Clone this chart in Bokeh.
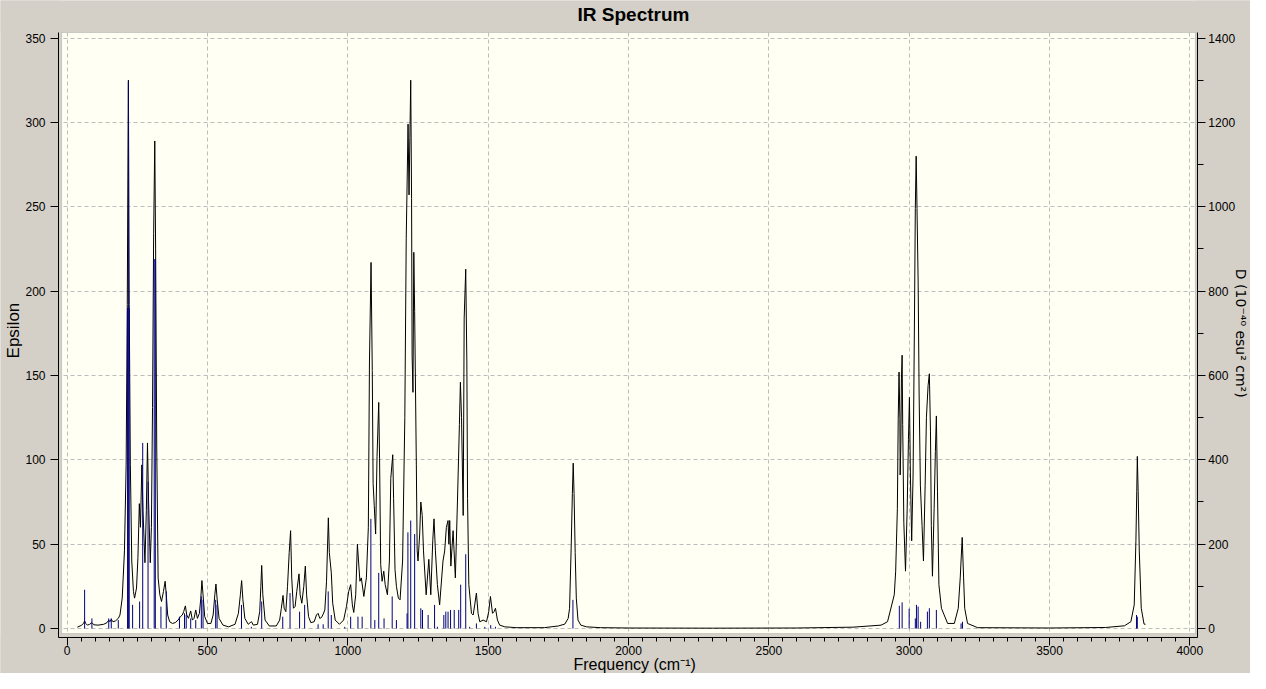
import math
from bokeh.plotting import figure
from bokeh.models import ColumnDataSource, Range1d, LinearAxis, FixedTicker, BoxAnnotation, Label
from bokeh.embed import file_html
from bokeh.resources import INLINE

# ---------------- data ----------------
title_text = "IR Spectrum"
x_label = "Frequency (cm\u207b\u00b9)"
y_label = "Epsilon"
y2_label = "D (10\u207b\u2074\u2070 esu\u00b2 cm\u00b2)"

x_ticks = list(range(0, 4001, 500))
x_minor = list(range(0, 4001, 50))
y_ticks = list(range(0, 351, 50))
y2_ticks = list(range(0, 1401, 200))
y2_minor = list(range(0, 1401, 100))

# broadened spectrum (Epsilon), key points
curve_freq = [
    36, 50, 58, 62, 66, 72, 80, 88, 95, 110, 130, 142, 148, 152, 157, 163, 172, 182, 188, 196,
    204, 210, 214, 218, 221, 225, 230, 236, 240, 247, 252, 257, 261, 266, 270, 277, 282, 286, 290, 296,
    300, 304, 308, 312, 315, 319, 324, 330, 336, 343, 349, 353, 358, 365, 375, 385, 395, 403, 410, 415,
    421, 426, 432, 440, 446, 452, 458, 464, 471, 476, 480, 484, 490, 500, 512, 520, 526, 530, 534, 541,
    555, 575, 598, 610, 617, 621.5, 626, 633, 645, 652, 657, 663, 678, 686, 690, 693, 697, 705, 720, 745,
    757, 763, 769, 773, 779, 785, 791, 796, 800, 806, 812, 818, 826, 830, 836, 843, 848.5, 853, 860, 868,
    880, 888, 894, 900, 906, 912, 918, 924, 930.5, 934, 941, 946, 955, 970, 985, 995, 1003, 1010, 1016, 1021,
    1028, 1034, 1038, 1043, 1048, 1057, 1066, 1073, 1077, 1082.6, 1087, 1090, 1094, 1099, 1104, 1110, 1113, 1117, 1122, 1128,
    1133, 1141, 1148, 1153, 1160, 1163, 1168, 1173, 1180, 1186, 1195, 1203, 1208, 1214.5, 1218, 1221, 1224, 1227, 1229, 1232,
    1235, 1238, 1244, 1247, 1250, 1256, 1260, 1265, 1269.5, 1279, 1288.5, 1295.5, 1302.5, 1307, 1312, 1319, 1327, 1339, 1345, 1351,
    1357, 1360, 1363, 1367, 1375, 1383, 1390.5, 1397.5, 1401, 1405, 1411, 1414.5, 1420, 1424, 1426.5, 1431, 1440.5, 1446.5, 1452, 1458,
    1464, 1470, 1482, 1494, 1502, 1508, 1515.5, 1521, 1526, 1533, 1541, 1559, 1600, 1700, 1750, 1773, 1785, 1790, 1796, 1800,
    1803, 1806, 1810, 1814, 1820, 1830, 1850, 1900, 2000, 2300, 2600, 2800, 2900, 2923, 2947, 2952, 2958, 2961, 2964, 2967,
    2968, 2970.5, 2972.5, 2975, 2977, 2981, 2987, 2993, 2997.5, 3001, 3004.5, 3009, 3014, 3018.5, 3022, 3025, 3028, 3032, 3035.5, 3040,
    3046, 3051, 3057, 3061.5, 3067.5, 3072, 3076, 3079, 3083, 3089, 3093.5, 3097, 3101, 3106, 3115, 3137, 3161, 3175, 3182, 3189,
    3194, 3198, 3208, 3244, 3500, 3700, 3767, 3790, 3802, 3808, 3811, 3813, 3816, 3820, 3827, 3837, 3842,
]
curve_eps = [
    0.8, 1.8, 3, 4.5, 3, 2, 2.5, 3.5, 2.2, 2, 2.5, 3.5, 5, 4, 5.5, 4, 4.5, 6, 8, 18,
    46, 97, 192, 325, 192, 97, 40, 22, 18, 24, 42, 74, 60, 97, 70, 39, 70, 110, 75, 39,
    60, 131, 234, 289, 225, 107, 30, 20, 16, 22, 28, 20, 8, 4, 3, 3.5, 5, 7, 8, 10,
    13.4, 8, 6, 10.4, 5, 6, 11, 6, 9, 18, 28.4, 20, 7, 3, 3, 8, 20, 26.4, 18, 6,
    2, 1, 2.5, 9, 20, 28.4, 17, 6, 2.5, 3.5, 4, 2, 2.5, 10, 25, 37.4, 20, 5, 1.5, 1.5,
    5, 12, 19.6, 12, 10, 25, 45, 58, 30, 12, 13, 22, 32.4, 20, 15, 25, 37, 20, 7, 3.5,
    4, 8, 9, 6, 6.5, 8.5, 11, 28, 65.6, 45, 33, 15, 5, 2.5, 5, 13, 22, 26, 14, 9.5,
    20, 50, 40, 28, 30, 19, 30, 60, 158, 217, 153, 86, 73, 56, 102, 134, 101, 38, 28, 34,
    26, 20, 40, 89, 103, 77, 35, 25, 18, 17, 40, 125, 231, 299, 257, 291, 325, 255, 162, 140,
    223, 188, 97, 46, 40, 56, 75, 67, 46, 20, 41, 20, 52, 65, 46, 26, 14, 40, 46, 60,
    64, 50, 64, 37, 58, 30, 75, 121, 146, 125, 67, 184, 213, 158, 77, 26, 9, 8, 14, 21,
    9, 4, 5, 4, 10, 19, 9, 10, 12, 5, 2, 1, 0.5, 0.5, 1.5, 2.6, 6, 12, 50, 80,
    98, 80, 45, 18, 5, 2, 1, 0.5, 0.3, 0.2, 0.3, 0.8, 2, 4, 20, 34, 71, 124, 152, 125,
    91, 109, 148, 162, 121, 63, 34, 71, 112, 137, 91, 52, 91, 174, 249, 280, 249, 206, 139, 85,
    61, 40, 85, 125, 144, 151, 117, 61, 31, 71, 105, 126, 81, 26, 12, 3, 3, 12, 30, 54,
    30, 12, 3, 0.5, 0.3, 0.6, 1.6, 4, 14, 52, 81, 102, 81, 46, 12, 2.6, 2.5,
]

# stick spectrum: frequency (cm-1) and dipole strength D (10^-40 esu^2 cm^2)
stick_freq = [
    62, 88, 148, 157, 182, 215, 218, 221, 233, 258, 269, 288, 310, 314, 334, 353, 400, 418, 424, 440,
    458, 478, 484, 529, 534, 621, 656, 693, 768, 794, 828, 846, 894, 912, 930, 941, 989, 1010, 1036, 1051,
    1082, 1096, 1110, 1129, 1158, 1173, 1211, 1214, 1224, 1238, 1260, 1266, 1286, 1309, 1319, 1342, 1349, 1357, 1366, 1379,
    1395, 1402, 1420, 1434, 1458, 1488, 1509, 1526, 1802, 2965, 2975, 3000, 3022, 3026, 3032, 3041, 3065, 3072, 3097, 3185,
    3190, 3810, 3813,
]
stick_D = [
    92, 24, 24, 24, 20, 760, 1296, 760, 56, 64, 440, 348, 876, 876, 52, 88, 28, 36, 32, 24,
    20, 76, 68, 68, 56, 56, 4, 64, 28, 84, 40, 56, 10, 10, 88, 32, 4, 28, 28, 28,
    260, 20, 132, 24, 76, 20, 36, 228, 256, 224, 48, 44, 32, 56, 4, 32, 40, 40, 44, 44,
    44, 104, 176, 4, 12, 4, 8, 4, 68, 54, 62, 47, 24, 56, 52, 16, 40, 48, 44, 12,
    16, 32, 28,
]

# ---------------- layout / styling ----------------
BG = "#D4D0C8"
CREAM = "#FFFFF4"
FONT = "Liberation Sans"

# the frame fills the whole canvas; the axes are pinned at the panel edges
X_LO, X_HI = -237.7, 4216.3
Y_LO, Y_HI = -26.67, 372.26
AX_X_LEFT, AX_X_RIGHT = -31, 4027
AX_Y_BOTTOM, AX_Y_TOP = -5.33, 353.3
D_SCALE = 4.0

p = figure(width=1250, height=673,
           x_range=Range1d(X_LO, X_HI), y_range=Range1d(Y_LO, Y_HI),
           output_backend="svg", toolbar_location=None, min_border=0,
           background_fill_color=BG, border_fill_color=BG, outline_line_color=None)
p.title.visible = False

p.extra_y_ranges = {"D": Range1d(Y_LO * D_SCALE, Y_HI * D_SCALE)}

left = p.left[0]
bottom = p.below[0]
right = LinearAxis(y_range_name="D")

left.ticker = FixedTicker(ticks=y_ticks, minor_ticks=[])
bottom.ticker = FixedTicker(ticks=x_ticks, minor_ticks=x_minor)
right.ticker = FixedTicker(ticks=y2_ticks, minor_ticks=y2_minor)

left.fixed_location = AX_X_LEFT
left.bounds = (AX_Y_BOTTOM, AX_Y_TOP)
bottom.fixed_location = AX_Y_BOTTOM
bottom.bounds = (AX_X_LEFT, AX_X_RIGHT)
right.fixed_location = AX_X_RIGHT
right.bounds = (AX_Y_BOTTOM * D_SCALE, AX_Y_TOP * D_SCALE)

for ax in (left, bottom, right):
    ax.axis_label = None
    ax.axis_line_color = "black"
    ax.major_tick_line_color = "black"
    ax.minor_tick_line_color = "black"
    ax.major_tick_in = 0
    ax.major_tick_out = 8
    ax.minor_tick_in = 0
    ax.minor_tick_out = 4
    ax.major_label_text_font = FONT
    ax.major_label_text_font_size = "12px"
    ax.major_label_text_color = "black"

left.minor_tick_line_color = None
left.major_label_standoff = 5
bottom.major_label_standoff = 1
right.major_label_standoff = 3
right.minor_tick_out = 6

p.add_layout(right, "right")

for g in (p.xgrid[0], p.ygrid[0]):
    g.grid_line_color = "#BDBDBD"
    g.grid_line_dash = "4 3"
    g.grid_line_width = 1
p.xgrid[0].ticker = FixedTicker(ticks=x_ticks)
p.ygrid[0].ticker = FixedTicker(ticks=y_ticks)

# cream plotting panel, grey surround hides the grid outside it
p.add_layout(BoxAnnotation(left=-20, right=4020, bottom=-3, top=353.3, fill_color=CREAM, fill_alpha=1,
                           line_color="#808080", line_width=1, level="image"))
for kw in (dict(right=-22.5), dict(left=4022.5), dict(top=-3.4), dict(bottom=353.7)):
    p.add_layout(BoxAnnotation(fill_color=BG, fill_alpha=1, line_color=None, level="glyph", **kw))

# texts: title and axis titles
p.add_layout(Label(x=2017.8, y=364.0, text=title_text, text_font=FONT, text_font_size="19px",
                   text_font_style="bold", text_color="black", text_align="center",
                   text_baseline="middle"))
p.add_layout(Label(x=2021.9, y=-21.6, text=x_label, text_font=FONT, text_font_size="16px",
                   text_color="black", text_align="center", text_baseline="middle"))
p.add_layout(Label(x=-191.3, y=176.6, text=y_label, text_font=FONT, text_font_size="17px",
                   text_color="black", text_align="center", text_baseline="middle",
                   angle=math.pi / 2))
p.add_layout(Label(x=4182.4, y=175, text=y2_label, text_font="DejaVu Sans",
                   text_font_size="14px", text_color="black", text_align="center",
                   text_baseline="middle", angle=-math.pi / 2))

curve_src = ColumnDataSource(dict(freq=curve_freq, eps=curve_eps))
stick_src = ColumnDataSource(dict(freq=stick_freq, D=stick_D, base=[0] * len(stick_freq)))

p.line(x="freq", y="eps", source=curve_src, line_color="black", line_width=1)
p.segment(x0="freq", y0="base", x1="freq", y1="D", source=stick_src, y_range_name="D",
          line_color="#000080", line_width=1)

open("out.html", "w").write(file_html(p, INLINE))
